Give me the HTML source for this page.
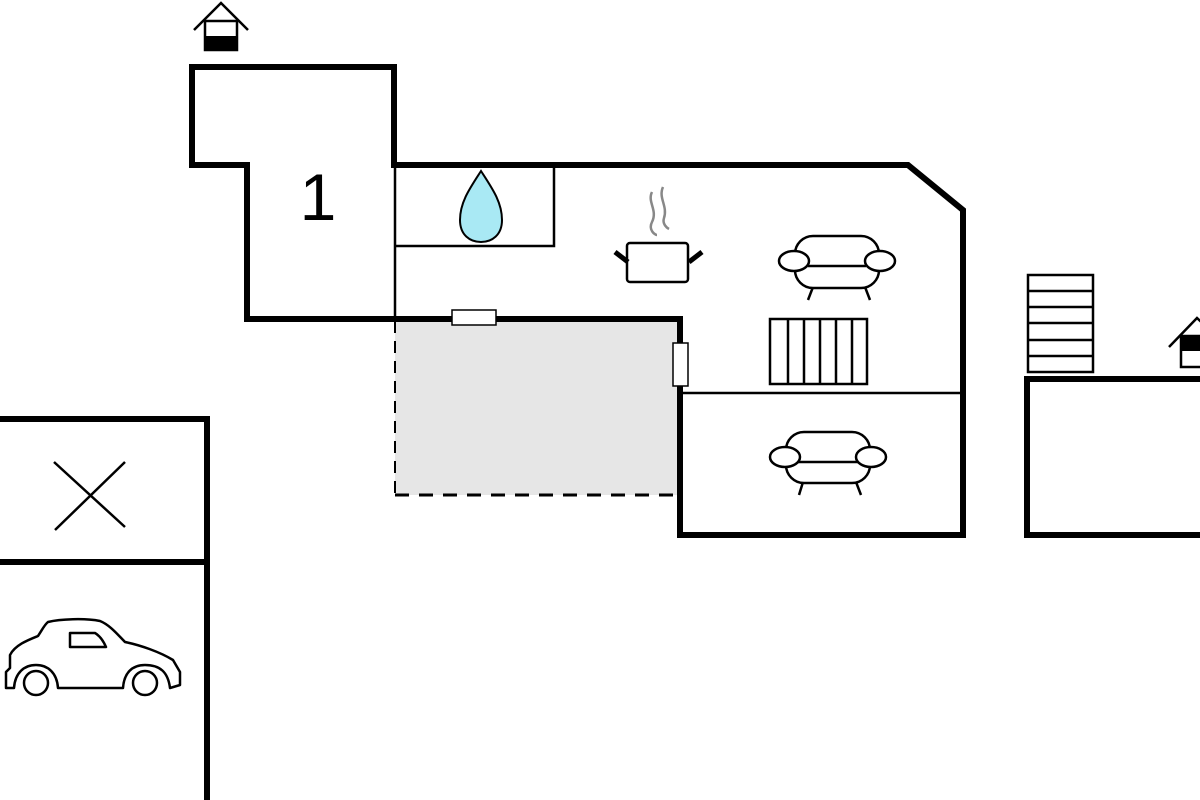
<!DOCTYPE html>
<html><head><meta charset="utf-8"><style>
html,body{margin:0;padding:0;background:#fff;}
svg{display:block;}
</style></head><body>
<svg width="1200" height="800" viewBox="0 0 1200 800" xmlns="http://www.w3.org/2000/svg">
<!-- gray terrace -->
<rect x="395" y="321" width="284" height="174" fill="#e6e6e6"/>
<line x1="395" y1="321" x2="395" y2="495" stroke="#000" stroke-width="2" stroke-dasharray="12,8"/>
<line x1="395" y1="495" x2="679" y2="495" stroke="#000" stroke-width="3" stroke-dasharray="14,10"/>
<!-- main outline -->
<path d="M192,67 L394,67 L394,165 L908,165 L963,210 L963,535 L680,535 L680,319 L247,319 L247,165 L192,165 Z" fill="none" stroke="#000" stroke-width="6" stroke-linejoin="miter"/>
<!-- thin walls -->
<line x1="395" y1="165" x2="395" y2="319" stroke="#000" stroke-width="2.5"/>
<polyline points="395,246 554,246 554,166" fill="none" stroke="#000" stroke-width="2.5"/>
<line x1="680" y1="393" x2="963" y2="393" stroke="#000" stroke-width="2.5"/>
<!-- doors -->
<rect x="452" y="310" width="44" height="15" fill="#fff" stroke="#000" stroke-width="1.5"/>
<rect x="673" y="343" width="15" height="43" fill="#fff" stroke="#000" stroke-width="1.5"/>
<!-- label 1 -->
<text x="318" y="220" font-family="Liberation Sans, sans-serif" font-size="66" text-anchor="middle">1</text>
<!-- water drop -->
<path d="M481,171 C470,188 460,202 460,220 C460,235 470,242 481,242 C492,242 502,235 502,220 C502,202 492,188 481,171 Z" fill="#a9e9f4" stroke="#000" stroke-width="2"/>
<!-- pot -->
<rect x="627" y="243" width="61" height="39" rx="3" fill="#fff" stroke="#000" stroke-width="2.5"/>
<line x1="615" y1="252" x2="628" y2="262" stroke="#000" stroke-width="5"/>
<line x1="702" y1="252" x2="689" y2="262" stroke="#000" stroke-width="5"/>
<path d="M652,192 C647,202 658,210 652,222 C648,230 655,235 657,235" fill="none" stroke="#888" stroke-width="2.5"/>
<path d="M663,187 C658,198 668,206 664,218 C662,224 667,228 669,229" fill="none" stroke="#888" stroke-width="2.5"/>
<!-- sofa 1 -->
<g fill="#fff" stroke="#000" stroke-width="2.5">
<line x1="813" y1="287" x2="808" y2="300"/><line x1="865" y1="287" x2="870" y2="300"/>
<rect x="795" y="236" width="84" height="52" rx="18"/>
<line x1="808" y1="266" x2="866" y2="266"/>
<ellipse cx="794" cy="261" rx="15" ry="10"/><ellipse cx="880" cy="261" rx="15" ry="10"/>
</g>
<!-- sofa 2 -->
<g fill="#fff" stroke="#000" stroke-width="2.5">
<line x1="803" y1="482" x2="799" y2="495"/><line x1="856" y1="482" x2="861" y2="495"/>
<rect x="786" y="432" width="84" height="51" rx="18"/>
<line x1="798" y1="462" x2="858" y2="462"/>
<ellipse cx="785" cy="457" rx="15" ry="10"/><ellipse cx="871" cy="457" rx="15" ry="10"/>
</g>
<!-- radiator -->
<g fill="none" stroke="#000" stroke-width="2.5">
<rect x="770" y="319" width="97" height="65"/>
<line x1="788" y1="319" x2="788" y2="384"/><line x1="804" y1="319" x2="804" y2="384"/>
<line x1="820" y1="319" x2="820" y2="384"/><line x1="836" y1="319" x2="836" y2="384"/>
<line x1="852" y1="319" x2="852" y2="384"/>
</g>
<!-- top house icon -->
<polyline points="194,30 221,3 248,30" fill="none" stroke="#000" stroke-width="2.5"/>
<rect x="205" y="21" width="32" height="29" fill="#fff" stroke="#000" stroke-width="2.5"/>
<rect x="205" y="36" width="32" height="15" fill="#000"/>
<!-- left block -->
<path d="M0,419 L207,419 L207,800" fill="none" stroke="#000" stroke-width="6"/>
<line x1="0" y1="562" x2="207" y2="562" stroke="#000" stroke-width="6"/>
<line x1="54" y1="462" x2="125" y2="527" stroke="#000" stroke-width="2.5"/>
<line x1="125" y1="462" x2="55" y2="530" stroke="#000" stroke-width="2.5"/>
<!-- car -->
<g fill="#fff" stroke="#000" stroke-width="2.5" stroke-linejoin="round">
<path d="M10,668 L10,655 C15,645 28,640 38,636 C42,630 45,624 48,622 C60,619 85,618 100,621 C110,625 118,635 125,642 C140,645 160,652 173,660 L180,672 L180,685 L170,688 C168,672 160,665 145,665 C132,665 124,673 123,688 L58,688 C57,673 48,665 36,665 C24,665 15,673 14,688 L6,688 L6,672 Z"/>
<circle cx="36" cy="683" r="12"/>
<circle cx="145" cy="683" r="12"/>
<path d="M70,633 L95,633 C100,636 103,640 106,647 L70,647 Z"/>
</g>
<!-- right building -->
<path d="M1200,379 L1027,379 L1027,535 L1200,535" fill="none" stroke="#000" stroke-width="6"/>
<g fill="none" stroke="#000" stroke-width="2.5">
<rect x="1028" y="275" width="65" height="97"/>
<line x1="1028" y1="291" x2="1093" y2="291"/><line x1="1028" y1="307" x2="1093" y2="307"/>
<line x1="1028" y1="323" x2="1093" y2="323"/><line x1="1028" y1="340" x2="1093" y2="340"/>
<line x1="1028" y1="356" x2="1093" y2="356"/>
</g>
<polyline points="1169,347 1197,318 1210,330" fill="none" stroke="#000" stroke-width="2.5"/>
<rect x="1181" y="336" width="25" height="31" fill="#fff" stroke="#000" stroke-width="2.5"/>
<rect x="1181" y="336" width="25" height="15" fill="#000"/>
</svg>
</body></html>
